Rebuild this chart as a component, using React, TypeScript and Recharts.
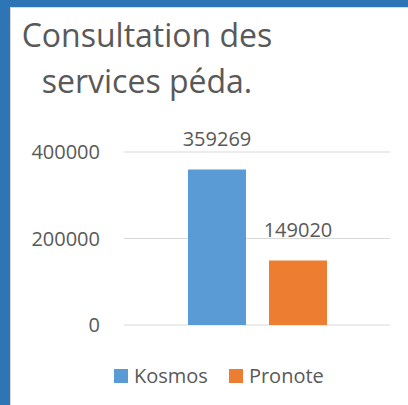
import { BarChart, Bar, XAxis, YAxis, CartesianGrid, LabelList } from "recharts";

const categories = ["Consultations"];
const kosmosValues = [359269];
const pronoteValues = [149020];
const yTicks = [0, 200000, 400000];
const seriesNames = ["Kosmos", "Pronote"];
const seriesColors = ["#5B9BD5", "#ED7D31"];

const data = categories.map((c, i) => ({
  name: c,
  Kosmos: kosmosValues[i],
  Pronote: pronoteValues[i],
}));

const FONT = "'Open Sans', sans-serif";
const TEXT = "#595959";

function LegendBox() {
  return (
    <div
      style={{
        position: "absolute",
        left: 114,
        top: 362,
        display: "flex",
        alignItems: "center",
        fontFamily: FONT,
        fontSize: 20,
        color: TEXT,
      }}
    >
      {seriesNames.map((n, i) => (
        <div key={n} style={{ display: "flex", alignItems: "center", marginRight: 21 }}>
          <span style={{ width: 14, height: 14, background: seriesColors[i], marginRight: 6, display: "inline-block" }} />
          <span>{n}</span>
        </div>
      ))}
    </div>
  );
}

export default function App() {
  return (
    <div style={{ position: "fixed", left: 0, top: 0, width: 408, height: 405, background: "#fff", overflow: "hidden" }}>
      <div style={{ position: "absolute", left: 0, top: 0, width: 408, height: 7, background: "#2E75B6" }} />
      <div style={{ position: "absolute", left: 0, top: 0, width: 10, height: 405, background: "#2E75B6" }} />
      <div style={{ position: "absolute", left: 10, top: 7, width: 398, height: 1, background: "#D9D9D9" }} />
      <div style={{ position: "absolute", left: 10, top: 7, width: 1, height: 398, background: "#D9D9D9" }} />
      <div
        style={{
          position: "absolute",
          left: 0,
          top: 12,
          width: 294,
          textAlign: "center",
          fontFamily: FONT,
          fontSize: 32,
          lineHeight: "46px",
          color: TEXT,
        }}
      >
        Consultation des
        <br />
        services péda.
      </div>
      <BarChart
        width={408}
        height={405}
        data={data}
        margin={{ top: 152, right: 18, bottom: 80, left: 0 }}
        barGap={23}
        barSize={58}
        style={{ position: "absolute", left: 0, top: 0 }}
      >
        <CartesianGrid vertical={false} stroke="#D9D9D9" />
        <XAxis dataKey="name" hide height={0} />
        <YAxis
          width={124}
          domain={[0, 400000]}
          ticks={yTicks}
          axisLine={false}
          tickLine={false}
          tickMargin={18}
          tick={{ fill: TEXT, fontSize: 20, fontFamily: FONT }}
        />
        {seriesNames.map((n, i) => (
          <Bar key={n} dataKey={n} fill={seriesColors[i]} isAnimationActive={false}>
            <LabelList dataKey={n} position="top" offset={24} fill={TEXT} fontSize={20} fontFamily={FONT} />
          </Bar>
        ))}
      </BarChart>
      <LegendBox />
    </div>
  );
}
